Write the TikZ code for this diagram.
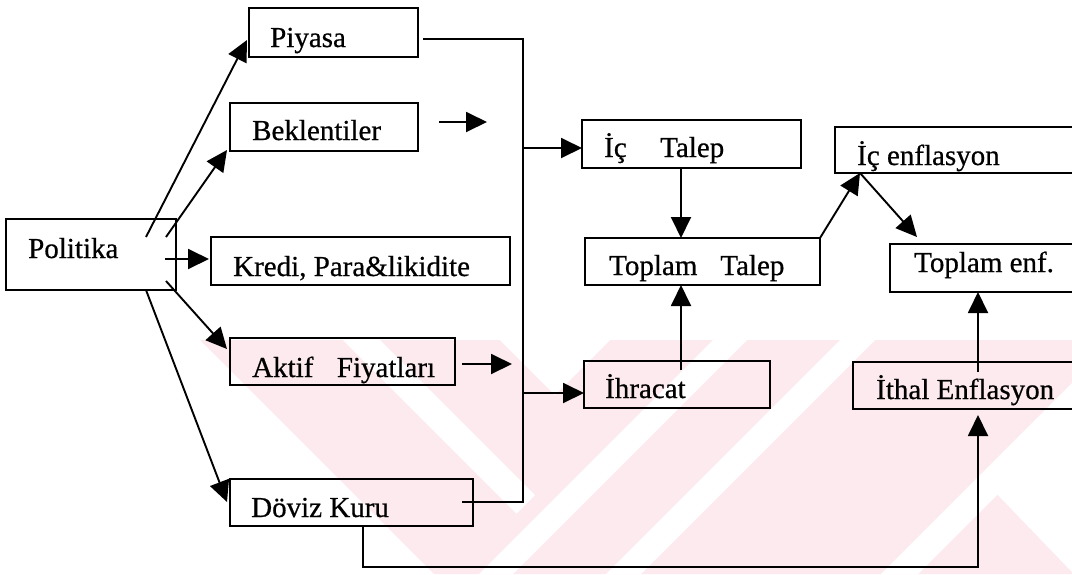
\documentclass[tikz,border=0pt]{standalone}
\usepackage{fontspec}
\setmainfont{Liberation Serif}
\newfontfamily\heavyserif[FakeBold=0.6]{Liberation Serif}
\usetikzlibrary{arrows.meta}
\definecolor{wm}{RGB}{253,234,238}
\begin{document}
\begin{tikzpicture}[x=1pt,y=-1pt,
  box/.style={draw,line width=2pt,anchor=north west,inner sep=0pt,outer sep=0pt},
  txt/.style={anchor=base west,inner sep=0pt,font=\heavyserif\fontsize{29}{34}\selectfont},
  conn/.style={line width=1.9pt},
  arr/.style={conn,-{Triangle[length=21pt,width=20pt]}}]
\clip (0,0) rectangle (1072,574);
% watermark
\fill[wm] (200,340) -- (1072,340) -- (1072,574) -- (434,574) -- cycle;
\fill[white] (343,340) -- (380,340) -- (535,495) -- (516.5,513.5) -- cycle;
\fill[white] (500,340) -- (610,340) -- (555,395) -- cycle;
\fill[white] (713,340) -- (747,340) -- (513,574) -- (479,574) -- cycle;
\fill[white] (840,340) -- (875,340) -- (641,574) -- (606,574) -- cycle;
\fill[white] (1115,340) -- (1152,340) -- (918,574) -- (881,574) -- cycle;
\fill[white] (993,490) -- (1072,411) -- (1072,572) -- cycle;
% boxes
\node[box,minimum width=170pt,minimum height=71pt] (pol) at (6,219) {};
\node[box,minimum width=169pt,minimum height=49pt] (piy) at (249,8) {};
\node[box,minimum width=188pt,minimum height=48pt] (bek) at (230,103) {};
\node[box,minimum width=299pt,minimum height=48pt] (kre) at (211,237) {};
\node[box,minimum width=225pt,minimum height=47pt] (akt) at (230,338) {};
\node[box,minimum width=243pt,minimum height=47pt] (dov) at (230,479) {};
\node[box,minimum width=219pt,minimum height=48pt] (ict) at (582,120) {};
\node[box,minimum width=235pt,minimum height=47pt] (top) at (585,238) {};
\node[box,minimum width=186pt,minimum height=47pt] (ihr) at (584,361) {};
\node[box,minimum width=260pt,minimum height=46pt] (ice) at (835,127) {};
\node[box,minimum width=200pt,minimum height=48pt] (toe) at (890,244) {};
\node[box,minimum width=240pt,minimum height=47pt] (ith) at (853,362) {};
% texts
\node[txt] (polT) at (28,258) {Politika};
\node[txt] (piyT) at (270,47) {Piyasa};
\node[txt] (bekT) at (252,140) {Beklentiler};
\node[txt] (kreT) at (233,276) {Kredi, Para\&likidite};
\node[txt] (aktT) at (252,377) {Aktif\hspace{23.5pt}Fiyatları};
\node[txt] (dovT) at (251,517) {Döviz Kuru};
\node[txt] (ictT) at (604,157) {İç\hspace{33.5pt}Talep};
\node[txt] (topT) at (609,275) {Toplam\hspace{23pt}Talep};
\node[txt] (ihrT) at (605,398) {İhracat};
\node[txt] (iceT) at (857,165) {İç enflasyon};
\node[txt] (toeT) at (914,272) {Toplam enf.};
\node[txt] (ithT) at (876,399) {İthal Enflasyon};
% coordinates
\coordinate (pA) at (146,237);
\coordinate (pB) at (166,237);
\coordinate (pC) at (165,259);
\coordinate (pD) at (166,281);
\coordinate (pE) at (146,290);
\coordinate (piyIn) at (247,40);
\coordinate (bekIn) at (227,150);
\coordinate (kreIn) at (209,259);
\coordinate (aktIn) at (227,349);
\coordinate (dovIn) at (227,502);
\coordinate (bekOut) at (439,122);
\coordinate (bekEnd) at (487,122);
\coordinate (aktOut) at (462,364);
\coordinate (aktEnd) at (512,364);
\coordinate (piyOut) at (423,39);
\coordinate (busTop) at (523,39);
\coordinate (busBot) at (523,502);
\coordinate (dovR) at (462,502);
\coordinate (busT) at (523,148);
\coordinate (busI) at (523,393);
\coordinate (dovD) at (363,526);
\coordinate (dovDD) at (363,567);
\coordinate (ithDD) at (978,567);
\coordinate (ithIn) at (978,415);
% connectors
\draw[arr] (pA) -- (piyIn);
\draw[arr] (pB) -- (bekIn);
\draw[arr] (pC) -- (kreIn);
\draw[arr] (pD) -- (aktIn);
\draw[arr] (pE) -- (dovIn);
\draw[arr] (bekOut) -- (bekEnd);
\draw[arr] (aktOut) -- (aktEnd);
\draw[conn] (piyOut) -- (busTop) -- (busBot) -- (dovR);
\draw[arr] (busT) -- (ict.west |- busT);
\draw[arr] (busI) -- (ihr.west |- busI);
\draw[arr] (ict.south -| 681,0) -- (top.north -| 681,0);
\draw[arr] (681,370) coordinate (ihrUp) -- (top.south -| ihrUp);
\draw[arr] (top.north east) -- (860,173) coordinate (iceIn);
\draw[arr] (iceIn) -- (917,237) coordinate (toeIn);
\draw[arr] (dovD) -- (dovDD) -- (ithDD) -- (ithIn);
\draw[arr] (978,372) coordinate (ithUp) -- (toe.south -| ithUp);
\end{tikzpicture}
\end{document}
